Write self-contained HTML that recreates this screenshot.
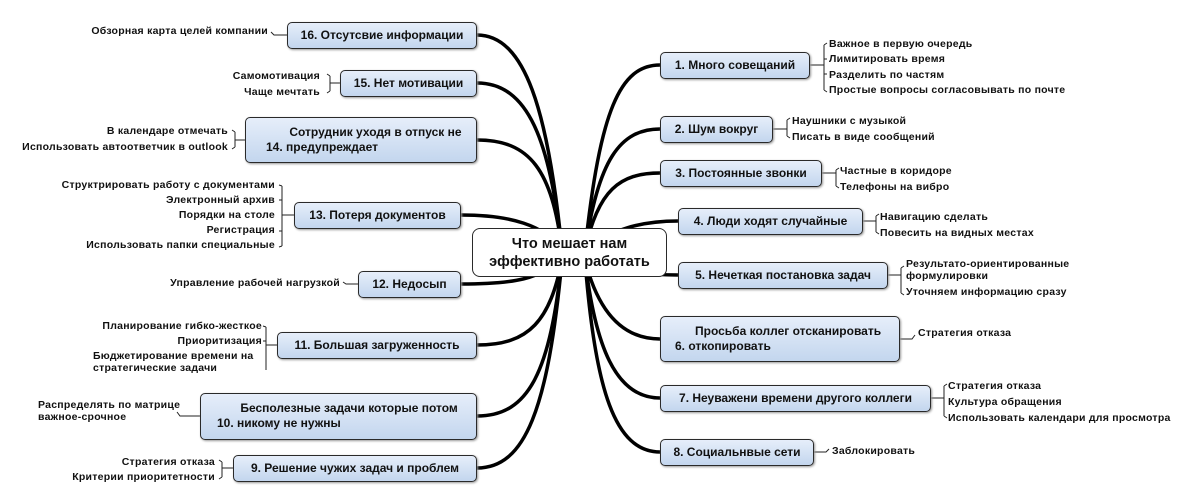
<!DOCTYPE html>
<html><head><meta charset="utf-8"><style>
body{margin:0;width:1200px;height:491px;background:#fff;position:relative;overflow:hidden;font-family:"Liberation Sans","DejaVu Sans",sans-serif;}
.b{position:absolute;box-sizing:border-box;border:1.5px solid #2a2a2a;border-radius:5px;background:linear-gradient(#e6eefa,#c3d6ee);box-shadow:1px 1px 2px #999;font-weight:bold;font-size:12px;color:#111;display:flex;align-items:center;justify-content:center;line-height:15px;}
.t{position:absolute;font-weight:bold;font-size:10.5px;letter-spacing:0.25px;color:#111;white-space:nowrap;line-height:12px;}
.r{text-align:right}
svg{position:absolute;left:0;top:0}
</style></head><body>
<svg width="1200" height="491">
<g fill="none" stroke="#000" stroke-width="3.5" stroke-linecap="round">
<path d="M562 250 C548 110 525 35 477 35"/>
<path d="M562 250 C550 140 528 83 477 83"/>
<path d="M562 250 C552 170 530 140 477 140"/>
<path d="M562 250 C545 225 510 215 461 215"/>
<path d="M562 255 C545 280 510 284 461 284"/>
<path d="M562 260 C550 320 530 345 477 345"/>
<path d="M562 260 C550 370 530 416 477 416"/>
<path d="M562 260 C548 410 525 468 477 468"/>
<path d="M585 250 C600 110 620 65 660 65"/>
<path d="M585 250 C598 160 620 129 660 129"/>
<path d="M585 250 C598 190 620 173 660 173"/>
<path d="M585 250 C610 230 640 221 678 221"/>
<path d="M585 260 C610 270 640 275 678 275"/>
<path d="M585 260 C595 300 615 339 660 339"/>
<path d="M585 260 C595 345 615 398 660 398"/>
<path d="M585 260 C595 390 615 452 660 452"/>
</g>
<g fill="none" stroke="#222" stroke-width="1">
<path d="M287 35 H274 l-3 -3"/>
<path d="M340 83 H330 M330 76 V91 M330 76 l-3 -2 M330 91 l-3 2"/>
<path d="M245 140 H235 M235 132 V147 M235 132 l-3 -2 M235 147 l-3 2"/>
<path d="M294 215 H282 M282 186 V246 M282 186 l-3 -1 M282 246 l-3 1 M282 200 l-3 0 M282 231 l-3 0"/>
<path d="M358 284 H346 l-3 -2"/>
<path d="M277 345 H266 M266 327 V370 M266 327 l-3 -1 M266 341 l-3 0"/>
<path d="M200 416 H180 l-3 -4"/>
<path d="M233 468 H222 M222 462 V477 M222 462 l-3 -2 M222 477 l-3 2"/>
<path d="M810 65 H824 M824 45 V90 M824 45 l3 -2 M824 90 l3 2 M824 59 l3 0 M824 74 l3 0"/>
<path d="M773 129 H787 M787 120 V136 M787 120 l3 -2 M787 136 l3 2"/>
<path d="M822 173 H836 M836 170 V186 M836 170 l3 -2 M836 186 l3 2"/>
<path d="M863 221 H876 M876 216 V232 M876 216 l3 -2 M876 232 l3 2"/>
<path d="M888 275 H901 M901 268 V293 M901 268 l3 -2 M901 293 l3 2"/>
<path d="M900 339 H912 l3 -4"/>
<path d="M931 398 H944 M944 386 V416 M944 386 l3 -2 M944 416 l3 2"/>
<path d="M814 452 H826 l3 -3"/>
</g>
</svg>
<div class="b" style="left:472px;top:228px;width:195px;height:49px;background:#fff;border-radius:8px;font-size:14.5px;line-height:18px;text-align:center;box-shadow:none;">Что мешает нам<br>эффективно работать</div>

<div class="b" style="left:287px;top:22px;width:190px;height:27px">16. Отсутсвие информации</div>
<div class="b" style="left:340px;top:70px;width:137px;height:27px">15. Нет мотивации</div>
<div class="b" style="left:245px;top:117px;width:232px;height:46px;display:block;padding:7px 0 0 20px">&nbsp;&nbsp;&nbsp;&nbsp;&nbsp;&nbsp;&nbsp;Сотрудник уходя в отпуск не<br>14. предупреждает</div>
<div class="b" style="left:294px;top:202px;width:167px;height:27px">13. Потеря документов</div>
<div class="b" style="left:358px;top:271px;width:103px;height:27px">12. Недосып</div>
<div class="b" style="left:277px;top:332px;width:200px;height:27px">11. Большая загруженность</div>
<div class="b" style="left:200px;top:393px;width:277px;height:47px;display:block;padding:7px 0 0 16px">&nbsp;&nbsp;&nbsp;&nbsp;&nbsp;&nbsp;&nbsp;Бесполезные задачи которые потом<br>10. никому не нужны</div>
<div class="b" style="left:233px;top:455px;width:244px;height:27px">9. Решение чужих задач и проблем</div>

<div class="b" style="left:660px;top:52px;width:150px;height:27px">1. Много совещаний</div>
<div class="b" style="left:660px;top:116px;width:113px;height:27px">2. Шум вокруг</div>
<div class="b" style="left:660px;top:160px;width:162px;height:27px">3. Постоянные звонки</div>
<div class="b" style="left:678px;top:208px;width:185px;height:27px">4. Люди ходят случайные</div>
<div class="b" style="left:678px;top:262px;width:210px;height:27px">5. Нечеткая постановка задач</div>
<div class="b" style="left:660px;top:316px;width:240px;height:46px;display:block;padding:7px 0 0 14px">&nbsp;&nbsp;&nbsp;&nbsp;&nbsp;&nbsp;Просьба коллег отсканировать<br>6. откопировать</div>
<div class="b" style="left:660px;top:385px;width:271px;height:27px">7. Неуважени времени другого коллеги</div>
<div class="b" style="left:660px;top:439px;width:154px;height:27px">8. Социальнвые сети</div>

<div class="t r" style="right:932px;top:25px">Обзорная карта целей компании</div>
<div class="t r" style="right:880px;top:70px">Самомотивация</div>
<div class="t r" style="right:880px;top:86px">Чаще мечтать</div>
<div class="t r" style="right:972px;top:125px">В календаре отмечать</div>
<div class="t r" style="right:972px;top:141px">Использовать автоответчик в outlook</div>
<div class="t r" style="right:925px;top:179px">Структрировать работу с документами</div>
<div class="t r" style="right:925px;top:194px">Электронный архив</div>
<div class="t r" style="right:925px;top:209px">Порядки на столе</div>
<div class="t r" style="right:925px;top:224px">Регистрация</div>
<div class="t r" style="right:925px;top:239px">Использовать папки специальные</div>
<div class="t r" style="right:860px;top:277px">Управление рабочей нагрузкой</div>
<div class="t r" style="right:938px;top:320px">Планирование гибко-жесткое</div>
<div class="t r" style="right:938px;top:335px">Приоритизация</div>
<div class="t" style="left:93px;top:350px">Бюджетирование времени на<br>стратегические задачи</div>
<div class="t" style="left:38px;top:399px">Распределять по матрице<br>важное-срочное</div>
<div class="t r" style="right:985px;top:456px">Стратегия отказа</div>
<div class="t r" style="right:985px;top:471px">Критерии приоритетности</div>

<div class="t" style="left:829px;top:37px;line-height:15.3px">Важное в первую очередь<br>Лимитировать время<br>Разделить по частям<br>Простые вопросы согласовывать по почте</div>
<div class="t" style="left:792px;top:113px;line-height:16px">Наушники с музыкой<br>Писать в виде сообщений</div>
<div class="t" style="left:840px;top:163px;line-height:16px">Частные в коридоре<br>Телефоны на вибро</div>
<div class="t" style="left:880px;top:209px;line-height:16px">Навигацию сделать<br>Повесить на видных местах</div>
<div class="t" style="left:906px;top:258px">Результато-ориентированные<br>формулировки</div>
<div class="t" style="left:906px;top:286px">Уточняем информацию сразу</div>
<div class="t" style="left:918px;top:327px">Стратегия отказа</div>
<div class="t" style="left:948px;top:378px;line-height:16px">Стратегия отказа<br>Культура обращения<br>Использовать календари для просмотра</div>
<div class="t" style="left:832px;top:445px">Заблокировать</div>
</body></html>
